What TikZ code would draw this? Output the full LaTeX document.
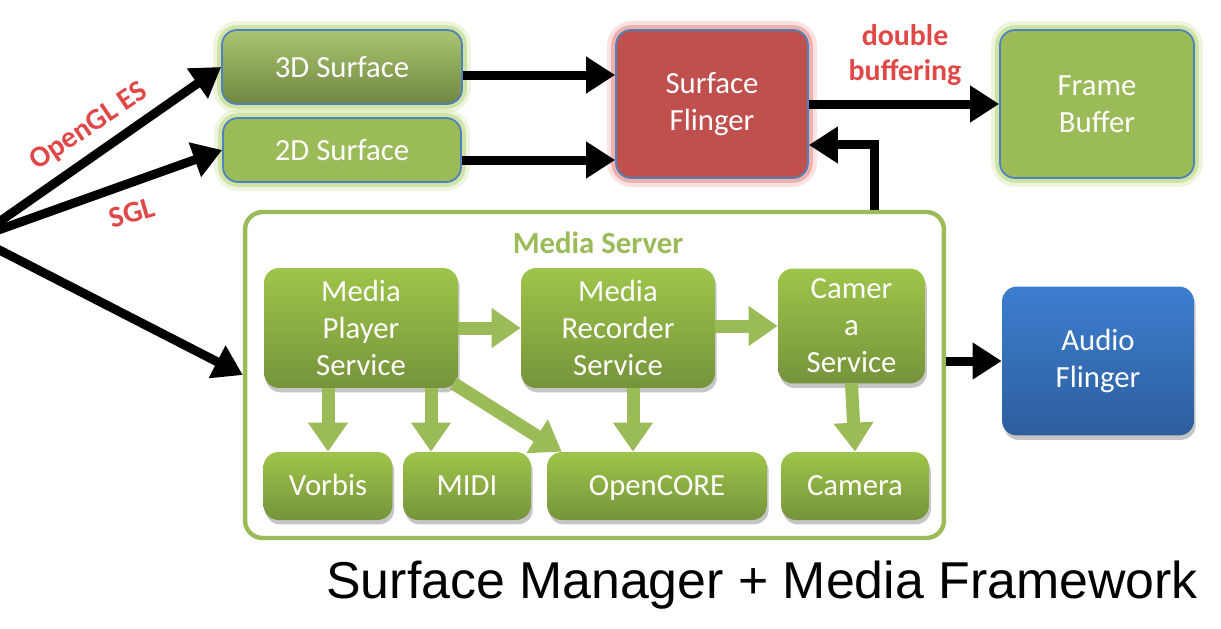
\documentclass[tikz,border=0pt]{standalone}
\usepackage{fontspec}
\setmainfont{Carlito}
\newfontfamily\titlefont{Liberation Sans}
\usetikzlibrary{arrows.meta,shadows,positioning}

\definecolor{sfgreen}{HTML}{9BBB59}
\definecolor{glowgreen}{HTML}{B9D77F}
\definecolor{sfblue}{HTML}{4F81BD}
\definecolor{sfred}{HTML}{C0504D}
\definecolor{glowred}{HTML}{E8908C}
\definecolor{mstop}{HTML}{9EC54A}
\definecolor{msbot}{HTML}{76933B}
\definecolor{aftop}{HTML}{3D7ECF}
\definecolor{afbot}{HTML}{2D5E9E}
\definecolor{labelred}{HTML}{E04848}

\begin{document}
\begin{tikzpicture}[x=0.02cm,y=-0.02cm,
 box/.style={rounded corners=0.3cm,align=center,text=white,inner sep=0pt,
  font=\fontsize{17.5}{21}\selectfont},
 surface/.style={box,fill=sfgreen,draw=sfblue,line width=1pt,
  preaction={draw=glowgreen,line width=10pt,opacity=0.25},
  preaction={draw=glowgreen,line width=5.5pt,opacity=0.6}},
 flinger/.style={box,fill=sfred,draw=sfblue,line width=1pt,
  preaction={draw=glowred,line width=10pt,opacity=0.25},
  preaction={draw=glowred,line width=5.5pt,opacity=0.6}},
 service/.style={box,top color=mstop,bottom color=msbot,
  drop shadow={shadow xshift=1pt,shadow yshift=-2.5pt,fill=black!45,opacity=0.5}},
 leaf/.style={service,text height=13pt,text depth=2pt},
 audio/.style={box,top color=aftop,bottom color=afbot,
  drop shadow={shadow xshift=1pt,shadow yshift=-2.5pt,fill=black!45,opacity=0.5}},
 blackarrow/.style={line width=0.18cm,-{Triangle[length=0.58cm,width=0.7cm]}},
 greenarrow/.style={draw=sfgreen,line width=0.26cm,-{Triangle[length=0.58cm,width=0.76cm]}},
 redlabel/.style={text=labelred,align=center,font=\bfseries\fontsize{17}{20}\selectfont}]
 \useasboundingbox (0,0) rectangle (1221,629);

 % surface manager
 \node[surface,minimum width=4.8cm,minimum height=1.48cm,
  top color=sfgreen!85!white,middle color=sfgreen!95!white,bottom color=sfgreen!72!black] (s_3D) at (342,67) {3D Surface};
 \node[surface,minimum width=4.76cm,minimum height=1.28cm] (s_2D) at (342,150) {2D Surface};
 \node[flinger,minimum width=3.84cm,minimum height=2.96cm] (s_SF) at (712,104) {Surface\\Flinger};
 \node[surface,minimum width=3.88cm,minimum height=2.96cm] (s_FB) at (1097,104) {Frame\\Buffer};
 \node[audio,minimum width=3.84cm,minimum height=2.98cm] (s_AF) at (1098,361) {Audio\\Flinger};

 % media server
 \node[draw=sfgreen,line width=2.5pt,fill=white,rounded corners=0.35cm,
  minimum width=13.98cm,minimum height=6.52cm] (ms) at (594.5,375) {};
 \node[text=sfgreen,font=\bfseries\fontsize{17.5}{21}\selectfont] (ms_title) at (598,243) {Media Server};
 \node[service,minimum width=3.88cm,minimum height=2.4cm] (m_MPS) at (361,328) {Media\\Player\\Service};
 \node[service,minimum width=3.88cm,minimum height=2.4cm] (m_MRS) at (618,328) {Media\\Recorder\\Service};
 \node[service,minimum width=2.94cm,minimum height=2.3cm] (m_CS) at (851.5,326) {Camer\\a\\Service};
 \node[leaf,minimum width=2.58cm,minimum height=1.36cm] (m_Vorbis) at (328,486) {Vorbis};
 \node[leaf,minimum width=2.56cm,minimum height=1.36cm] (m_MIDI) at (467,486) {MIDI};
 \node[leaf,minimum width=4.4cm,minimum height=1.36cm] (m_OC) at (657,486) {OpenCORE};
 \node[leaf,minimum width=2.96cm,minimum height=1.36cm] (m_Cam) at (855,486) {Camera};

 \node[font=\titlefont\fontsize{29.5}{35}\selectfont,anchor=base east] (title) at (1204,598)
  {Surface Manager + Media Framework};

 % labels
 \node[redlabel,rotate=34] (l_gl) at (89,127) {OpenGL ES};
 \node[redlabel,rotate=16] (l_sgl) at (132,213) {SGL};
 \node[redlabel] (l_db) at (905,55) {double\\buffering};

 % connectors
 \coordinate (c_src) at (-24,238);
 \draw[blackarrow] (c_src) -- (s_3D.west);
 \draw[blackarrow] (c_src) -- (s_2D.west);
 \draw[blackarrow] (c_src) -- (ms.west);
 \draw[blackarrow] ([yshift=-0.16cm]s_3D.east) -- ([yshift=-0.16cm]s_3D.east -| s_SF.west);
 \draw[blackarrow] ([yshift=-0.2cm]s_2D.east) -- ([yshift=-0.2cm]s_2D.east -| s_SF.west);
 \draw[blackarrow] (s_SF.east) -- (s_SF.east -| s_FB.west);
 \draw[blackarrow] ([xshift=-1.44cm]ms.north east) |- ([yshift=-0.82cm]s_SF.east);
 \draw[blackarrow] (ms.east |- s_AF.west) -- (s_AF.west);

 \draw[greenarrow] (m_MPS.east) -- (m_MRS.west);
 \draw[greenarrow] (m_MRS.east |- m_CS.west) -- (m_CS.west);
 \draw[greenarrow] (m_Vorbis.north |- m_MPS.south) -- (m_Vorbis.north);
 \draw[greenarrow] ([xshift=-0.72cm]m_MIDI.north |- m_MPS.south) -- ([xshift=-0.72cm]m_MIDI.north);
 \draw[greenarrow] ([xshift=-0.1cm,yshift=0.1cm]m_MPS.south east) -- ([xshift=0.3cm]m_OC.north west);
 \draw[greenarrow] ([xshift=0.3cm]m_MRS.south) -- ([xshift=0.3cm]m_MRS.south |- m_OC.north);
 \draw[greenarrow] (m_CS.south) -- (m_Cam.north);
\end{tikzpicture}
\end{document}
